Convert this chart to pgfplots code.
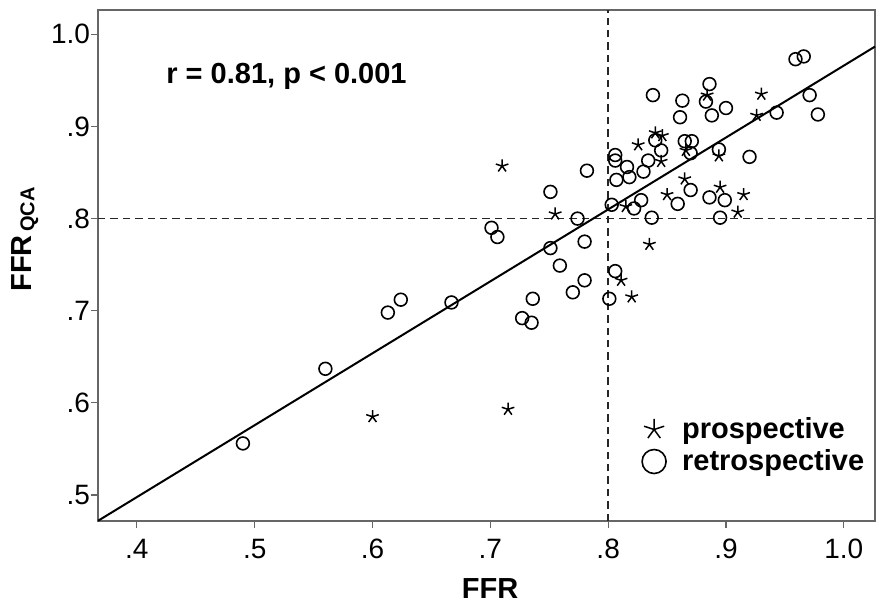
\documentclass[border=0pt]{standalone}
\usepackage{fontspec}
\setmainfont{Liberation Sans}
\usepackage{pgfplots}
\pgfplotsset{compat=1.18}
\usetikzlibrary{calc}

\pgfplotstableread{
x y
0.600 0.585
0.710 0.857
0.715 0.593
0.755 0.805
0.811 0.733
0.820 0.715
0.835 0.772
0.815 0.813
0.8255 0.880
0.840 0.893
0.846 0.890
0.845 0.862
0.866 0.874
0.865 0.843
0.850 0.826
0.884 0.934
0.894 0.868
0.895 0.834
0.915 0.826
0.910 0.807
0.926 0.912
0.930 0.935
}\prospective

\pgfplotstableread{
x y
0.490 0.556
0.560 0.637
0.613 0.698
0.624 0.712
0.667 0.709
0.701 0.790
0.706 0.780
0.727 0.692
0.735 0.687
0.736 0.713
0.751 0.829
0.751 0.768
0.759 0.749
0.770 0.720
0.774 0.800
0.780 0.775
0.780 0.733
0.782 0.852
0.801 0.713
0.806 0.743
0.803 0.815
0.806 0.869
0.806 0.863
0.807 0.842
0.816 0.856
0.818 0.845
0.822 0.811
0.828 0.820
0.830 0.851
0.834 0.863
0.837 0.801
0.838 0.934
0.840 0.885
0.845 0.874
0.859 0.816
0.861 0.910
0.863 0.928
0.865 0.884
0.871 0.884
0.870 0.871
0.870 0.831
0.883 0.927
0.886 0.946
0.888 0.912
0.886 0.823
0.894 0.875
0.895 0.801
0.899 0.820
0.900 0.920
0.920 0.867
0.943 0.915
0.959 0.973
0.966 0.976
0.971 0.934
0.978 0.913
}\retrospective

\begin{document}
\begin{tikzpicture}
\begin{axis}[
  name=ax,
  scale only axis,
  width=388.5pt, height=255.5pt,
  xmin=0.367, xmax=1.0265, ymin=0.4718, ymax=1.0264,
  axis line style={draw=black!60, line width=0.6pt},
  xtick={0.4,0.5,0.6,0.7,0.8,0.9,1.0},
  xticklabels={.4,.5,.6,.7,.8,.9,1.0},
  ytick={0.5,0.6,0.7,0.8,0.9,1.0},
  yticklabels={.5,.6,.7,.8,.9,1.0},
  tick align=outside,
  xtick pos=bottom, ytick pos=left,
  major tick length=3.5pt,
  tick style={draw=black!60, line width=0.6pt},
  ticklabel style={font=\fontsize{14}{16}\selectfont},
  xticklabel style={yshift=-2pt},
  yticklabel style={xshift=3pt},
  xlabel={\bfseries FFR},
  ylabel={\bfseries FFR\raisebox{-1.5pt}{\fontsize{10}{11}\selectfont\,QCA}},
  label style={font=\fontsize{14.5}{16}\selectfont, inner sep=0pt},
  xlabel style={at={(axis description cs:0.5045,-0.133)}, anchor=center},
  ylabel style={at={(axis description cs:-0.094,0.551)}, anchor=center},
  legend style={at={(axis description cs:0.692,0.219)}, anchor=north west,
    draw=none, fill=none, font=\bfseries\fontsize{14.5}{16}\selectfont,
    row sep=0pt, column sep=6pt},
  legend cell align=left,
  clip=false,
]
\addplot[black!85, line width=0.8pt, dash pattern=on 3.7pt off 2.5pt, forget plot] coordinates {(0.8,0.4718) (0.8,1.0264)};
\addplot[black!85, line width=0.8pt, dash pattern=on 3.7pt off 2.5pt, forget plot] coordinates {(0.367,0.8) (1.0265,0.8)};
\addplot[black, line width=1pt, forget plot] coordinates {(0.367,0.472) (1.0265,0.9867)};
\addplot[only marks, mark=star, mark size=3.3pt, black, line width=0.75pt,
  legend image post style={mark size=5.3pt}] table {\prospective};
\addlegendentry{prospective}
\addplot[only marks, mark=o, mark size=3.2pt, black, line width=0.8pt,
  legend image post style={mark size=6pt}] table {\retrospective};
\addlegendentry{retrospective}
\node[anchor=base west, inner sep=0pt, font=\bfseries\fontsize{14.5}{16}\selectfont] at (axis description cs:0.0875,0.857) {r = 0.81, p < 0.001};
\end{axis}
\pgfresetboundingbox
\path[use as bounding box] ($(ax.south west)+(-49pt,-41.5pt)$) rectangle ($(ax.north east)+(0.5pt,5pt)$);
\end{tikzpicture}
\end{document}
